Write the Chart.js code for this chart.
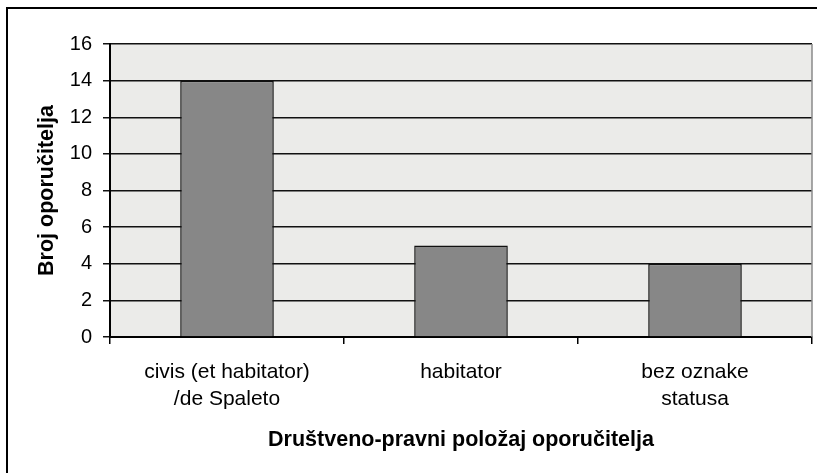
<!DOCTYPE html>
<html>
<head>
<meta charset="utf-8">
<script src="https://cdn.jsdelivr.net/npm/chart.js@4"></script>
<style>
  html, body { margin: 0; padding: 0; background: #fff; }
  canvas { display: block; }
</style>
</head>
<body>
<canvas id="statusChart" width="817" height="473"></canvas>
<script>
// data
const categories = [
    ['civis (et habitator)', '/de Spaleto'],
    'habitator',
    ['bez oznake', 'statusa']
];
const testatorCounts = [14, 5, 4];
const yTicks = [0, 2, 4, 6, 8, 10, 12, 14, 16];

const FONT = '"Liberation Sans", Arial, sans-serif';

// frame round the picture + grey plot background
const framePlugin = {
    id: 'frame',
    beforeDraw(chart) {
        const c = chart.ctx;
        const a = chart.chartArea;
        c.save();
        c.fillStyle = '#fff';
        c.fillRect(0, 0, chart.width, chart.height);
        c.strokeStyle = '#000';
        c.lineWidth = 2;
        c.strokeRect(7, 8, chart.width + 10, chart.height + 10);
        c.fillStyle = '#ebebe9';
        c.fillRect(a.left, a.top, a.right - a.left, a.bottom - a.top);
        c.restore();
    },
    afterDraw(chart) {
        const c = chart.ctx;
        const a = chart.chartArea;
        c.save();
        c.strokeStyle = '#8a8a8a';
        c.lineWidth = 1.5;
        c.beginPath();
        c.moveTo(a.right, a.top);
        c.lineTo(a.right, a.bottom);
        c.stroke();
        c.restore();
    }
};

new Chart(document.getElementById('statusChart'), {
    type: 'bar',
    data: {
        labels: categories,
        datasets: [{
            data: testatorCounts,
            backgroundColor: '#878787',
            borderColor: '#111',
            borderWidth: 1.5,
            barPercentage: 0.4,
            categoryPercentage: 1.0
        }]
    },
    options: {
        responsive: false,
        animation: false,
        devicePixelRatio: 1,
        layout: { padding: { top: 44, right: 5, left: 0, bottom: 0 } },
        plugins: {
            legend: { display: false },
            tooltip: { enabled: false }
        },
        scales: {
            x: {
                offset: true,
                afterFit: s => { s.height = 136; },
                grid: {
                    offset: true,
                    drawOnChartArea: false,
                    drawTicks: true,
                    tickLength: 7,
                    color: '#000',
                    lineWidth: 1.5
                },
                border: { display: true, color: '#000', width: 2 },
                ticks: {
                    color: '#000',
                    padding: 15,
                    maxRotation: 0,
                    autoSkip: false,
                    font: { family: FONT, size: 21, lineHeight: 1.28 }
                },
                title: {
                    display: true,
                    text: 'Društveno-pravni položaj oporučitelja',
                    color: '#000',
                    padding: { top: 0, bottom: 20 },
                    font: { family: FONT, size: 21.5, weight: 'bold', lineHeight: 1.2 }
                }
            },
            y: {
                min: 0,
                max: 16,
                afterFit: s => { s.width = 110; },
                afterBuildTicks: s => { s.ticks = yTicks.map(v => ({ value: v })); },
                grid: {
                    color: '#111',
                    lineWidth: 1.5,
                    tickLength: 7
                },
                border: { display: true, color: '#000', width: 2 },
                ticks: {
                    color: '#000',
                    padding: 11,
                    font: { family: FONT, size: 20 }
                },
                title: {
                    display: true,
                    text: 'Broj oporučitelja',
                    color: '#000',
                    padding: { top: 34, bottom: 0 },
                    font: { family: FONT, size: 21.5, weight: 'bold', lineHeight: 1.2 }
                }
            }
        }
    },
    plugins: [framePlugin]
});
</script>
</body>
</html>
